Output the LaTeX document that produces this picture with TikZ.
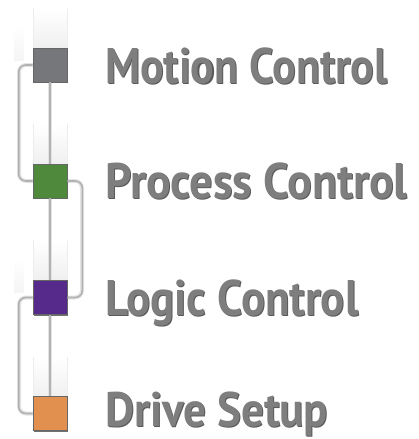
\documentclass[tikz,border=0pt]{standalone}
\usepackage{fontspec}
\usepackage{graphicx}
\setmainfont{PT Sans}
\definecolor{cgray}{HTML}{76777A}
\definecolor{cgreen}{HTML}{4F8A3C}
\definecolor{cpurple}{HTML}{552A8A}
\definecolor{corange}{HTML}{E2904F}
\definecolor{txt}{HTML}{7E7E7E}
\definecolor{txtsh}{HTML}{5A5A5A}
\tikzset{
  sq/.style={draw=black!60, line width=0.6pt, minimum size=34pt, inner sep=0pt,
    drop shadow={shadow xshift=1.3pt, shadow yshift=-1.3pt, fill=black!70, opacity=0.8}},
  halo/.style={draw=gray!22, line width=4pt, rounded corners=7pt},
  conn/.style={draw=gray!60, line width=1.6pt, rounded corners=7pt},
  lbl/.style={inner sep=0pt, anchor=base west, font=\bfseries\fontsize{50}{50}\selectfont, text=txt},
  lblsh/.style={lbl, text=txtsh},
  band/.style={top color=white, bottom color=gray!12, draw=none}
}
\usetikzlibrary{shadows}
\begin{document}
\begin{tikzpicture}[x=1pt,y=-1pt]
\useasboundingbox (0,0) rectangle (419,439);
% background bands
\foreach \t in {48,164,280,397}{
  \shade[band] (33,\t-40) rectangle (67,\t);
  \draw[gray!14, line width=0.6pt] (33,\t-40) -- (33,\t) (67,\t-40) -- (67,\t);
}
\shade[top color=white, bottom color=gray!8] (14,25) rectangle (24,60);
\shade[top color=white, bottom color=gray!8] (14,258) rectangle (24,292);
% coordinates for squares
\coordinate (cm) at (50,65);
\coordinate (cp) at (50,181);
\coordinate (cl) at (50,297.5);
\coordinate (cd) at (50,413.5);
% connectors (halo)
\path[halo] (cm) -- (cd);
\path[halo] (cm) ++(-17,0) -- ++(-14,0) |- ([xshift=-17pt]cp);
\path[halo] (cp) ++(17,0) -- ++(15,0) |- ([xshift=17pt]cl);
\path[halo] (cl) ++(-17,0) -- ++(-14,0) |- ([xshift=-17pt]cd);
% squares
\node[sq, fill=cgray] (m) at (cm) {};
\node[sq, fill=cgreen] (p) at (cp) {};
\node[sq, fill=cpurple] (l) at (cl) {};
\node[sq, fill=corange] (d) at (cd) {};
% connectors
\path[conn] (m.south) -- (p.north);
\path[conn] (p.south) -- (l.north);
\path[conn] (l.south) -- (d.north);
\path[conn] (m.west) -- ++(-14,0) |- (p.west);
\path[conn] (p.east) -- ++(15,0) |- (l.east);
\path[conn] (l.west) -- ++(-14,0) |- (d.west);
% labels
\node[lblsh] (tms) at (106,84) {\resizebox{282pt}{\height}{Motion Control}};
\node[lbl] (tm) at (105,83) {\resizebox{282pt}{\height}{Motion Control}};
\node[lblsh] (tps) at (106,199) {\resizebox{302pt}{\height}{Process Control}};
\node[lbl] (tp) at (105,198) {\resizebox{302pt}{\height}{Process Control}};
\node[lblsh] (tls) at (106,316) {\resizebox{253pt}{\height}{Logic Control}};
\node[lbl] (tl) at (105,315) {\resizebox{253pt}{\height}{Logic Control}};
\node[lblsh] (tds) at (106,427) {\resizebox{223pt}{0.97\height}{Drive Setup}};
\node[lbl] (td) at (105,426) {\resizebox{223pt}{0.97\height}{Drive Setup}};
\end{tikzpicture}
\end{document}
